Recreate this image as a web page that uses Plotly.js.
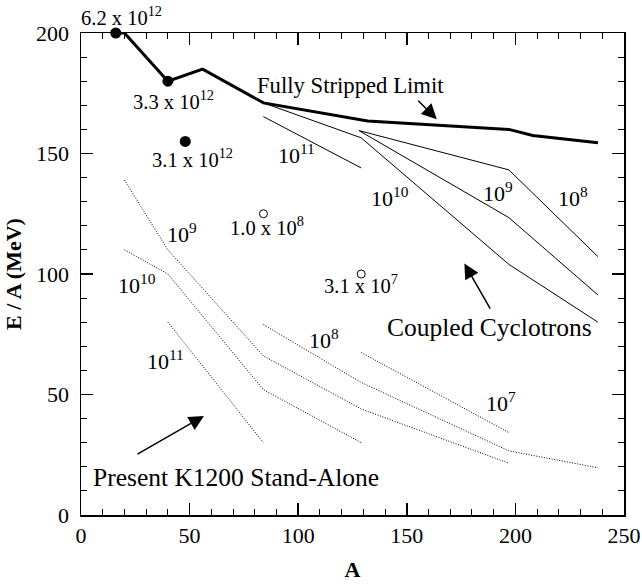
<!DOCTYPE html>
<html>
<head>
<meta charset="utf-8">
<script src="https://cdn.plot.ly/plotly-3.0.1.min.js"></script>
<style>html,body{margin:0;padding:0;background:#fff;}#chart{width:642px;height:585px;}</style>
</head>
<body>
<div id="chart"></div>
<script>
// Fully stripped limit (thick line)
const stripA = [16, 20, 40, 56, 84, 132, 197, 208, 238];
const stripE = [200, 200, 180, 185, 171, 163.5, 160, 157.5, 154.5];

// Measured beams
const filledA = [16, 40, 48];
const filledE = [200, 180, 155];
const openA = [84, 129];
const openE = [125, 100];

// Coupled cyclotrons intensity curves (solid thin)
const c11A = [84, 129];            const c11E = [165.3, 144];
const c10A = [84, 129, 197, 238];  const c10E = [171, 156.5, 104, 80];
const c9A  = [128, 197, 238];      const c9E  = [159.5, 123.4, 91.3];
const c8A  = [128, 197, 238];      const c8E  = [159.5, 143.2, 107.2];

// Present K1200 stand-alone intensity curves (dotted)
const k11A = [40, 84];                 const k11E = [80, 30];
const k10A = [20, 40, 84, 129];        const k10E = [110, 100, 52, 30];
const k9A  = [20, 40, 84, 129, 197];   const k9E  = [139, 110, 66, 44, 21.5];
const k8A  = [84, 129, 197, 238];      const k8E  = [79, 55, 26.6, 19.6];
const k7A  = [129, 197];               const k7E  = [67.4, 34.2];

// Beam intensity labels
const beamText = ['6.2 x 10<sup>12</sup>', '3.3 x 10<sup>12</sup>', '3.1 x 10<sup>12</sup>',
                  '1.0 x 10<sup>8</sup>', '3.1 x 10<sup>7</sup>'];
const beamLabelA = [18.7, 42.8, 51.3, 85.5, 128.7];
const beamLabelE = [207, 172, 148, 120, 96];

// Region labels
const regionText = ['Fully Stripped Limit', 'Coupled Cyclotrons', 'Present K1200 Stand-Alone'];
const regionLabelA = [124, 188.3, 71.3];
const regionLabelE = [178.4, 77.6, 15.6];

// Curve intensity labels
const curveText = ['10<sup>11</sup>', '10<sup>10</sup>', '10<sup>9</sup>', '10<sup>8</sup>',
                   '10<sup>9</sup>', '10<sup>10</sup>', '10<sup>11</sup>', '10<sup>8</sup>', '10<sup>7</sup>'];
const curveLabelA = [99.3, 142.3, 192, 226.3, 46.5, 25.8, 39.1, 111.9, 193.4];
const curveLabelE = [150, 132, 134, 132, 117, 96, 64.5, 73, 47];

// Arrows: head and tail
const arrowHeadA = [163.8, 176.5, 56.6];
const arrowHeadE = [164.2, 104.4, 41.1];
const arrowTailA = [154.6, 188.8, 25.3];
const arrowTailE = [172.5, 85, 24.9];

const E_RANGE = [0, 200];
const A_RANGE = [0, 250];

const FONT = '"Liberation Serif", "Times New Roman", Times, serif';
const FS = 22;
const dotted = {color: '#000', width: 1, dash: '1px,1.6px'};
const thin = {color: '#000', width: 1};

function line(x, y, l) {
  return {x: x, y: y, mode: 'lines', line: l, hoverinfo: 'none', cliponaxis: false, showlegend: false};
}

const traces = [
  line(c11A, c11E, thin), line(c10A, c10E, thin), line(c9A, c9E, thin), line(c8A, c8E, thin),
  line(k11A, k11E, dotted), line(k10A, k10E, dotted), line(k9A, k9E, dotted), line(k8A, k8E, dotted), line(k7A, k7E, dotted),
  line(stripA, stripE, {color: '#000', width: 3}),
  {x: filledA, y: filledE, mode: 'markers', marker: {color: '#000', size: 11}, cliponaxis: false, showlegend: false, hoverinfo: 'none'},
  {x: openA, y: openE, mode: 'markers', marker: {color: '#fff', size: 8, line: {color: '#000', width: 1}}, cliponaxis: false, showlegend: false, hoverinfo: 'none'}
];

const annotations = [];
function addLabels(texts, xs, ys, sizeFn) {
  for (let i = 0; i < texts.length; i++) {
    const inside = ys[i] <= E_RANGE[1];
    annotations.push({
      x: xs[i], xref: 'x',
      y: inside ? ys[i] : (ys[i] - E_RANGE[0]) / (E_RANGE[1] - E_RANGE[0]),
      yref: inside ? 'y' : 'paper', yanchor: 'middle', xanchor: 'center',
      text: texts[i], showarrow: false,
      font: {family: FONT, size: sizeFn(i), color: '#000'}});
  }
}
addLabels(beamText, beamLabelA, beamLabelE, () => 20.5);
addLabels(regionText, regionLabelA, regionLabelE, (i) => (i === 0 ? 22.7 : 25.5));
addLabels(curveText, curveLabelA, curveLabelE, () => FS);

for (let i = 0; i < arrowHeadA.length; i++) {
  annotations.push({x: arrowHeadA[i], y: arrowHeadE[i], ax: arrowTailA[i], ay: arrowTailE[i],
    xref: 'x', yref: 'y', axref: 'x', ayref: 'y', text: '', showarrow: true,
    arrowhead: 2, arrowsize: 2, arrowwidth: 1.5, arrowcolor: '#000', standoff: 0});
}

const axisCommon = {
  ticks: 'inside', ticklen: 12, tickwidth: 1.5, tickcolor: '#000',
  showline: true, linewidth: 1.5, linecolor: '#000', mirror: 'allticks',
  showgrid: false, zeroline: false,
  tickfont: {family: FONT, size: FS, color: '#000'},
  minor: {dtick: 10, ticks: 'inside', ticklen: 6, tickwidth: 1, tickcolor: '#000', showgrid: false}
};

const layout = {
  width: 642, height: 585,
  margin: {l: 81, r: 18, t: 33, b: 70},
  paper_bgcolor: '#fff', plot_bgcolor: '#fff',
  font: {family: FONT, size: FS, color: '#000'},
  showlegend: false,
  xaxis: Object.assign({}, axisCommon, {range: A_RANGE, dtick: 50, tick0: 0,
    title: {text: '<b>A</b>', font: {family: FONT, size: FS}, standoff: 14}}),
  yaxis: Object.assign({}, axisCommon, {range: E_RANGE, dtick: 50, tick0: 0, ticklabelstandoff: 6,
    title: {text: '<b>E / A (MeV)</b>', font: {family: FONT, size: FS}, standoff: 8}}),
  annotations: annotations
};

Plotly.newPlot('chart', traces, layout, {displayModeBar: false, staticPlot: true});
</script>
</body>
</html>
